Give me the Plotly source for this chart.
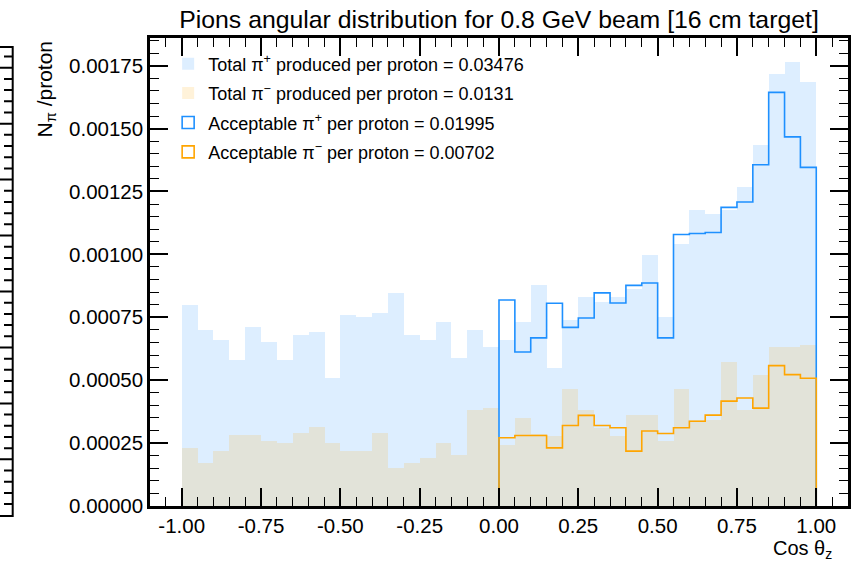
import numpy as np
import plotly.graph_objects as go

# ---------------- data ----------------
bin_edges = np.linspace(-1.0, 1.0, 41)

total_pip = [0.000800, 0.000701, 0.000661, 0.000581, 0.000710, 0.000652, 0.000581, 0.000679, 0.000692, 0.000509,
             0.000759, 0.000751, 0.000769, 0.000848, 0.000679, 0.000661, 0.000731, 0.000590, 0.000701, 0.000630,
             0.000661, 0.000731, 0.000880, 0.000550, 0.000741, 0.000831, 0.000811, 0.000831, 0.000864, 0.000999,
             0.000750, 0.001042, 0.001177, 0.001160, 0.001175, 0.001267, 0.001435, 0.001717, 0.001766, 0.001687]

total_pim = [0.000231, 0.000171, 0.000218, 0.000282, 0.000282, 0.000259, 0.000250, 0.000291, 0.000313, 0.000250,
             0.000218, 0.000218, 0.000291, 0.000152, 0.000171, 0.000192, 0.000250, 0.000202, 0.000380, 0.000389,
             0.000242, 0.000348, 0.000288, 0.000280, 0.000467, 0.000380, 0.000311, 0.000280, 0.000361, 0.000361,
             0.000258, 0.000467, 0.000340, 0.000340, 0.000571, 0.000380, 0.000522, 0.000630, 0.000630, 0.000639]

# acceptable pions: bins from cos = 0 to 1
acc_pip = [0.000819, 0.000612, 0.000668, 0.000806, 0.000710, 0.000747, 0.000847, 0.000807, 0.000877, 0.000886,
           0.000668, 0.001079, 0.001083, 0.001087, 0.001187, 0.001208, 0.001356, 0.001644, 0.001467, 0.001346]

acc_pim = [0.000271, 0.000280, 0.000280, 0.000231, 0.000320, 0.000360, 0.000320, 0.000311, 0.000218, 0.000298,
           0.000288, 0.000311, 0.000337, 0.000361, 0.000417, 0.000429, 0.000389, 0.000558, 0.000522, 0.000508]

legend_names = [
    "Total π<sup>+</sup> produced per proton = 0.03476",
    "Total π<sup>−</sup> produced per proton = 0.0131",
    "Acceptable π<sup>+</sup> per proton = 0.01995",
    "Acceptable π<sup>−</sup> per proton = 0.00702",
]

x_tickvals = [-1.0, -0.75, -0.5, -0.25, 0.0, 0.25, 0.5, 0.75, 1.0]
x_ticktext = ["-1.00", "-0.75", "-0.50", "-0.25", "0.00", "0.25", "0.50", "0.75", "1.00"]
y_tickvals = [0, 0.00025, 0.0005, 0.00075, 0.001, 0.00125, 0.0015, 0.00175]
y_ticktext = ["0.00000", "0.00025", "0.00050", "0.00075", "0.00100", "0.00125", "0.00150", "0.00175"]

# ---------------- styling ----------------
BLUE = "#1e90ff"
ORANGE = "#ffa500"
BLUE_FILL = "rgba(30,144,255,0.15)"
ORANGE_FILL = "rgba(255,165,0,0.15)"
FONT = "Liberation Sans, Arial, Helvetica, sans-serif"

centers = 0.5 * (bin_edges[:-1] + bin_edges[1:])
width = bin_edges[1] - bin_edges[0]

fig = go.Figure()

fig.add_trace(go.Bar(x=centers, y=total_pip, width=width, marker=dict(color=BLUE_FILL, line=dict(width=0)),
                     name=legend_names[0], legendgroup="g1"))
fig.add_trace(go.Bar(x=centers, y=total_pim, width=width, marker=dict(color=ORANGE_FILL, line=dict(width=0)),
                     name=legend_names[1], legendgroup="g2"))

# step outlines for the acceptable histograms
acc_edges = bin_edges[20:]
step_x = [acc_edges[0]] + list(acc_edges)
fig.add_trace(go.Scatter(x=step_x, y=[0] + acc_pip + [0], mode="lines", line=dict(color=BLUE, width=1.6, shape="hv"),
                         showlegend=False, hoverinfo="skip", legendgroup="g3"))
fig.add_trace(go.Scatter(x=step_x, y=[0] + acc_pim + [0], mode="lines", line=dict(color=ORANGE, width=1.6, shape="hv"),
                         showlegend=False, hoverinfo="skip", legendgroup="g4"))

# legend-only entries (outlined boxes like the reference)
fig.add_trace(go.Bar(x=[None], y=[None], marker=dict(color="rgba(0,0,0,0)", line=dict(color=BLUE, width=1.6)),
                     name=legend_names[2], legendgroup="g3"))
fig.add_trace(go.Bar(x=[None], y=[None], marker=dict(color="rgba(0,0,0,0)", line=dict(color=ORANGE, width=1.6)),
                     name=legend_names[3], legendgroup="g4"))

L, R, T, B = 150, 3, 38, 56
W, H = 851, 562
pw, ph = W - L - R, H - T - B

def px(x):
    return (x - L) / pw

def py(y):
    return (H - B - y) / ph

# remnant of a neighbouring panel at the far left edge
path = f"M {px(0)},{py(47)} L {px(12.7)},{py(47)} L {px(12.7)},{py(516)} L {px(0)},{py(516)}"
major0, step = 67.7, 55.95
for i in range(-1, 9):
    for j in range(5):
        yy = major0 + i * step + j * step / 5
        if 49 < yy < 514:
            x0 = 0 if j == 0 else 4
            path += f" M {px(x0)},{py(yy)} L {px(12.7)},{py(yy)}"

fig.update_layout(
    width=W, height=H,
    margin=dict(l=L, r=R, t=T, b=B, autoexpand=False),
    paper_bgcolor="white", plot_bgcolor="white",
    barmode="overlay", bargap=0,
    font=dict(family=FONT, color="black", size=20),
    title=dict(text="Pions angular distribution for 0.8 GeV beam [16 cm target]",
               x=499 / W, xanchor="center",
               y=1 - 19 / H, yanchor="middle", font=dict(size=24.8)),
    legend=dict(x=0.026, y=0.984, xanchor="left", yanchor="top", bgcolor="rgba(0,0,0,0)",
                font=dict(size=18), tracegroupgap=3, itemwidth=30),
    shapes=[dict(type="path", xref="paper", yref="paper", path=path,
                 line=dict(color="black", width=2))],
    annotations=[
        dict(text="N<sub>π</sub> /proton", xref="paper", yref="paper", x=px(45), y=py(39),
             xanchor="center", yanchor="top", textangle=-90, showarrow=False, font=dict(size=21)),
        dict(text="Cos θ<sub>z</sub>", xref="paper", yref="paper", x=px(834), y=py(549),
             xanchor="right", yanchor="middle", showarrow=False, font=dict(size=20)),
    ],
)

fig.update_xaxes(range=[-1.1, 1.1], tickvals=x_tickvals, ticktext=x_ticktext,
                 ticks="inside", ticklen=18, tickwidth=1.5, tickcolor="black",
                 minor=dict(ticks="inside", dtick=0.05, tick0=0, ticklen=9, tickwidth=1.2, tickcolor="black"),
                 showline=True, linewidth=2.5, linecolor="black", mirror="allticks",
                 showgrid=False, zeroline=False, tickfont=dict(size=20.5))
fig.update_yaxes(range=[0, 0.00186], tickvals=y_tickvals, ticktext=y_ticktext,
                 ticks="inside", ticklen=18, tickwidth=1.5, tickcolor="black",
                 minor=dict(ticks="inside", dtick=0.00005, tick0=0, ticklen=9, tickwidth=1.2, tickcolor="black"),
                 showline=True, linewidth=2.5, linecolor="black", mirror="allticks",
                 showgrid=False, zeroline=False, tickfont=dict(size=20.5))

fig.write_html("out.html", config={"displayModeBar": False},
               post_script="document.body.style.margin='0';document.body.style.padding='0';")
